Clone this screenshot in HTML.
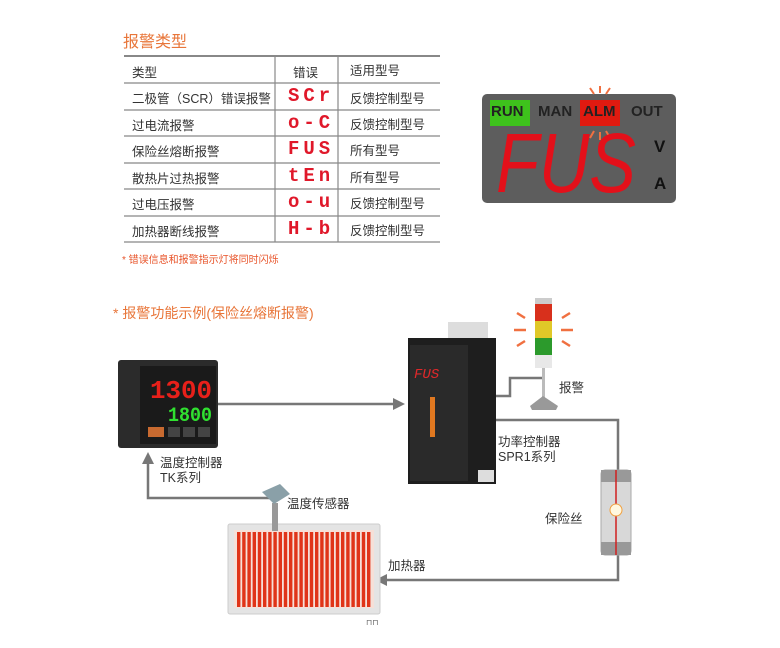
<!DOCTYPE html>
<html><head><meta charset="utf-8"><style>
body{margin:0;width:780px;height:648px;background:#fff;position:relative;overflow:hidden;font-family:"Liberation Sans","Noto Sans CJK SC",sans-serif}
.a{position:absolute;white-space:nowrap}
.t{font-size:12.5px;color:#333}
.e{font-family:"Liberation Mono",monospace;font-weight:bold;color:#e0182a;font-size:19px;letter-spacing:4px}
</style></head><body>
<div class="a" style="left:123px;top:28px;font-size:16px;color:#e8763a">报警类型</div>
<svg class="a" style="left:0;top:0" width="780" height="648">
<g stroke="#888" stroke-width="1.2">
<line x1="124" y1="56" x2="440" y2="56" stroke-width="2"/>
<line x1="124" y1="83" x2="440" y2="83"/><line x1="124" y1="110" x2="440" y2="110"/>
<line x1="124" y1="136" x2="440" y2="136"/><line x1="124" y1="163" x2="440" y2="163"/>
<line x1="124" y1="189" x2="440" y2="189"/><line x1="124" y1="216" x2="440" y2="216"/>
<line x1="124" y1="242" x2="440" y2="242"/>
<line x1="275" y1="56" x2="275" y2="242"/><line x1="338" y1="56" x2="338" y2="242"/>
</g>
<rect x="482" y="94" width="194" height="109" rx="5" fill="#5d5d5d"/>
<rect x="490" y="100" width="40" height="26" fill="#3ec21c"/>
<rect x="580" y="100" width="40" height="26" fill="#e01a10"/>
<g stroke="#f07040" stroke-width="2"><line x1="590" y1="88" x2="594" y2="94"/><line x1="600" y1="86" x2="600" y2="93"/><line x1="610" y1="88" x2="606" y2="94"/>
<line x1="590" y1="138" x2="594" y2="131"/><line x1="600" y1="140" x2="600" y2="132"/><line x1="610" y1="138" x2="606" y2="131"/></g>
<text x="496" y="192" font-family="Liberation Sans,sans-serif" font-size="84" fill="#e3101a" font-style="italic" textLength="140" lengthAdjust="spacingAndGlyphs" transform="">FUS</text>
<g stroke="#777" stroke-width="2.5" fill="none">
<line x1="218" y1="404" x2="398" y2="404"/>
<polyline points="495,396 510,396 510,378 543,378"/>
<polyline points="495,420 618,420 618,580 382,580"/>
<polyline points="275,498 148,498 148,462"/>
</g>
<polygon points="405,404 393,398 393,410" fill="#777"/>
<polygon points="375,580 387,574 387,586" fill="#777"/>
<polygon points="148,452 142,464 154,464" fill="#777"/>
<rect x="118" y="360" width="100" height="88" rx="3" fill="#2b2b2b"/>
<rect x="140" y="366" width="76" height="78" fill="#1a1a1a"/>
<text x="150" y="398" font-family="Liberation Mono,monospace" font-weight="bold" font-size="26" fill="#e8201a" textLength="62" lengthAdjust="spacingAndGlyphs">1300</text>
<text x="168" y="421" font-family="Liberation Mono,monospace" font-weight="bold" font-size="20" fill="#30e030" textLength="44" lengthAdjust="spacingAndGlyphs">1800</text>
<rect x="148" y="427" width="16" height="10" fill="#c86a30"/>
<rect x="168" y="427" width="12" height="10" fill="#444"/><rect x="183" y="427" width="12" height="10" fill="#444"/><rect x="198" y="427" width="12" height="10" fill="#444"/>
<rect x="448" y="322" width="40" height="20" fill="#ddd"/>
<rect x="408" y="338" width="88" height="146" fill="#1e1e1e"/>
<rect x="410" y="345" width="58" height="136" fill="#2a2a2a"/>
<rect x="478" y="470" width="16" height="12" fill="#ddd"/>
<text x="414" y="378" font-family="Liberation Mono,monospace" font-size="14" fill="#e0282a" font-style="italic">FUS</text>
<rect x="430" y="397" width="5" height="40" fill="#e07820"/>
<rect x="535" y="298" width="17" height="6" fill="#ccc"/>
<rect x="535" y="304" width="17" height="17" fill="#d8301c"/>
<rect x="535" y="321" width="17" height="17" fill="#e0c828"/>
<rect x="535" y="338" width="17" height="17" fill="#2c9a2c"/>
<rect x="535" y="355" width="17" height="13" fill="#e8e8e8"/>
<rect x="542" y="368" width="3" height="30" fill="#bbb"/>
<polygon points="543,396 530,406 532,410 556,410 558,406" fill="#999"/>
<g stroke="#f07040" stroke-width="2.5"><line x1="517" y1="313" x2="525" y2="318"/><line x1="514" y1="330" x2="526" y2="330"/><line x1="517" y1="346" x2="525" y2="341"/>
<line x1="570" y1="313" x2="562" y2="318"/><line x1="573" y1="330" x2="561" y2="330"/><line x1="570" y1="346" x2="562" y2="341"/></g>
<rect x="601" y="470" width="30" height="85" rx="4" fill="#d8d8d8" stroke="#aaa"/>
<rect x="601" y="470" width="30" height="12" fill="#999"/><rect x="601" y="542" width="30" height="13" fill="#999"/>
<line x1="616" y1="470" x2="616" y2="555" stroke="#d02020" stroke-width="1.5"/>
<circle cx="616" cy="510" r="6" fill="#fff8e0" stroke="#f0a040"/>
<rect x="228" y="524" width="152" height="90" rx="2" fill="#e4e4e4" stroke="#ccc"/>
<rect x="234" y="530" width="140" height="78" fill="#f6e0d8"/>
<g fill="#e03418">
<rect x="237" y="532" width="3.4" height="75"/><rect x="242.2" y="532" width="3.4" height="75"/><rect x="247.4" y="532" width="3.4" height="75"/><rect x="252.6" y="532" width="3.4" height="75"/><rect x="257.8" y="532" width="3.4" height="75"/><rect x="263" y="532" width="3.4" height="75"/><rect x="268.2" y="532" width="3.4" height="75"/><rect x="273.4" y="532" width="3.4" height="75"/><rect x="278.6" y="532" width="3.4" height="75"/><rect x="283.8" y="532" width="3.4" height="75"/><rect x="289" y="532" width="3.4" height="75"/><rect x="294.2" y="532" width="3.4" height="75"/><rect x="299.4" y="532" width="3.4" height="75"/><rect x="304.6" y="532" width="3.4" height="75"/><rect x="309.8" y="532" width="3.4" height="75"/><rect x="315" y="532" width="3.4" height="75"/><rect x="320.2" y="532" width="3.4" height="75"/><rect x="325.4" y="532" width="3.4" height="75"/><rect x="330.6" y="532" width="3.4" height="75"/><rect x="335.8" y="532" width="3.4" height="75"/><rect x="341" y="532" width="3.4" height="75"/><rect x="346.2" y="532" width="3.4" height="75"/><rect x="351.4" y="532" width="3.4" height="75"/><rect x="356.6" y="532" width="3.4" height="75"/><rect x="361.8" y="532" width="3.4" height="75"/><rect x="367" y="532" width="3.4" height="75"/>
</g>
<rect x="272" y="503" width="6" height="28" fill="#999"/>
<polygon points="262,492 280,484 290,494 274,504" fill="#8aa0a8"/>
<text x="366" y="625" font-size="8" fill="#666">⊓⊓</text>
</svg>
<div class="a" style="left:491px;top:103px;font-size:15px;font-weight:bold;color:#222">RUN</div>
<div class="a" style="left:538px;top:103px;font-size:15px;font-weight:bold;color:#222">MAN</div>
<div class="a" style="left:583px;top:103px;font-size:15px;font-weight:bold;color:#222">ALM</div>
<div class="a" style="left:631px;top:103px;font-size:15px;font-weight:bold;color:#222">OUT</div>
<div class="a" style="left:654px;top:137px;font-size:17px;font-weight:bold;color:#111">V</div>
<div class="a" style="left:654px;top:174px;font-size:17px;font-weight:bold;color:#111">A</div>
<div class="a t" style="left:132px;top:62px">类型</div><div class="a t" style="left:293px;top:62px">错误</div><div class="a t" style="left:350px;top:60px">适用型号</div>
<div class="a t" style="left:132px;top:88px">二极管（SCR）错误报警</div><div class="a e" style="left:288px;top:85px">SCr</div><div class="a t" style="left:350px;top:88px">反馈控制型号</div>
<div class="a t" style="left:132px;top:115px">过电流报警</div><div class="a e" style="left:288px;top:112px">o-C</div><div class="a t" style="left:350px;top:114px">反馈控制型号</div>
<div class="a t" style="left:132px;top:141px">保险丝熔断报警</div><div class="a e" style="left:288px;top:138px">FUS</div><div class="a t" style="left:350px;top:140px">所有型号</div>
<div class="a t" style="left:132px;top:168px">散热片过热报警</div><div class="a e" style="left:288px;top:165px">tEn</div><div class="a t" style="left:350px;top:167px">所有型号</div>
<div class="a t" style="left:132px;top:194px">过电压报警</div><div class="a e" style="left:288px;top:191px">o-u</div><div class="a t" style="left:350px;top:193px">反馈控制型号</div>
<div class="a t" style="left:132px;top:221px">加热器断线报警</div><div class="a e" style="left:288px;top:218px">H-b</div><div class="a t" style="left:350px;top:220px">反馈控制型号</div>
<div class="a" style="left:122px;top:251px;font-size:10px;color:#e8542a">* 错误信息和报警指示灯将同时闪烁</div>
<div class="a" style="left:113px;top:303px;font-size:14px;color:#e8763a">* 报警功能示例(保险丝熔断报警)</div>
<div class="a t" style="left:160px;top:456px;line-height:15px">温度控制器<br>TK系列</div>
<div class="a t" style="left:498px;top:435px;line-height:15px">功率控制器<br>SPR1系列</div>
<div class="a t" style="left:559px;top:377px">报警</div>
<div class="a t" style="left:287px;top:493px">温度传感器</div>
<div class="a t" style="left:545px;top:508px">保险丝</div>
<div class="a t" style="left:388px;top:555px">加热器</div>
</body></html>
